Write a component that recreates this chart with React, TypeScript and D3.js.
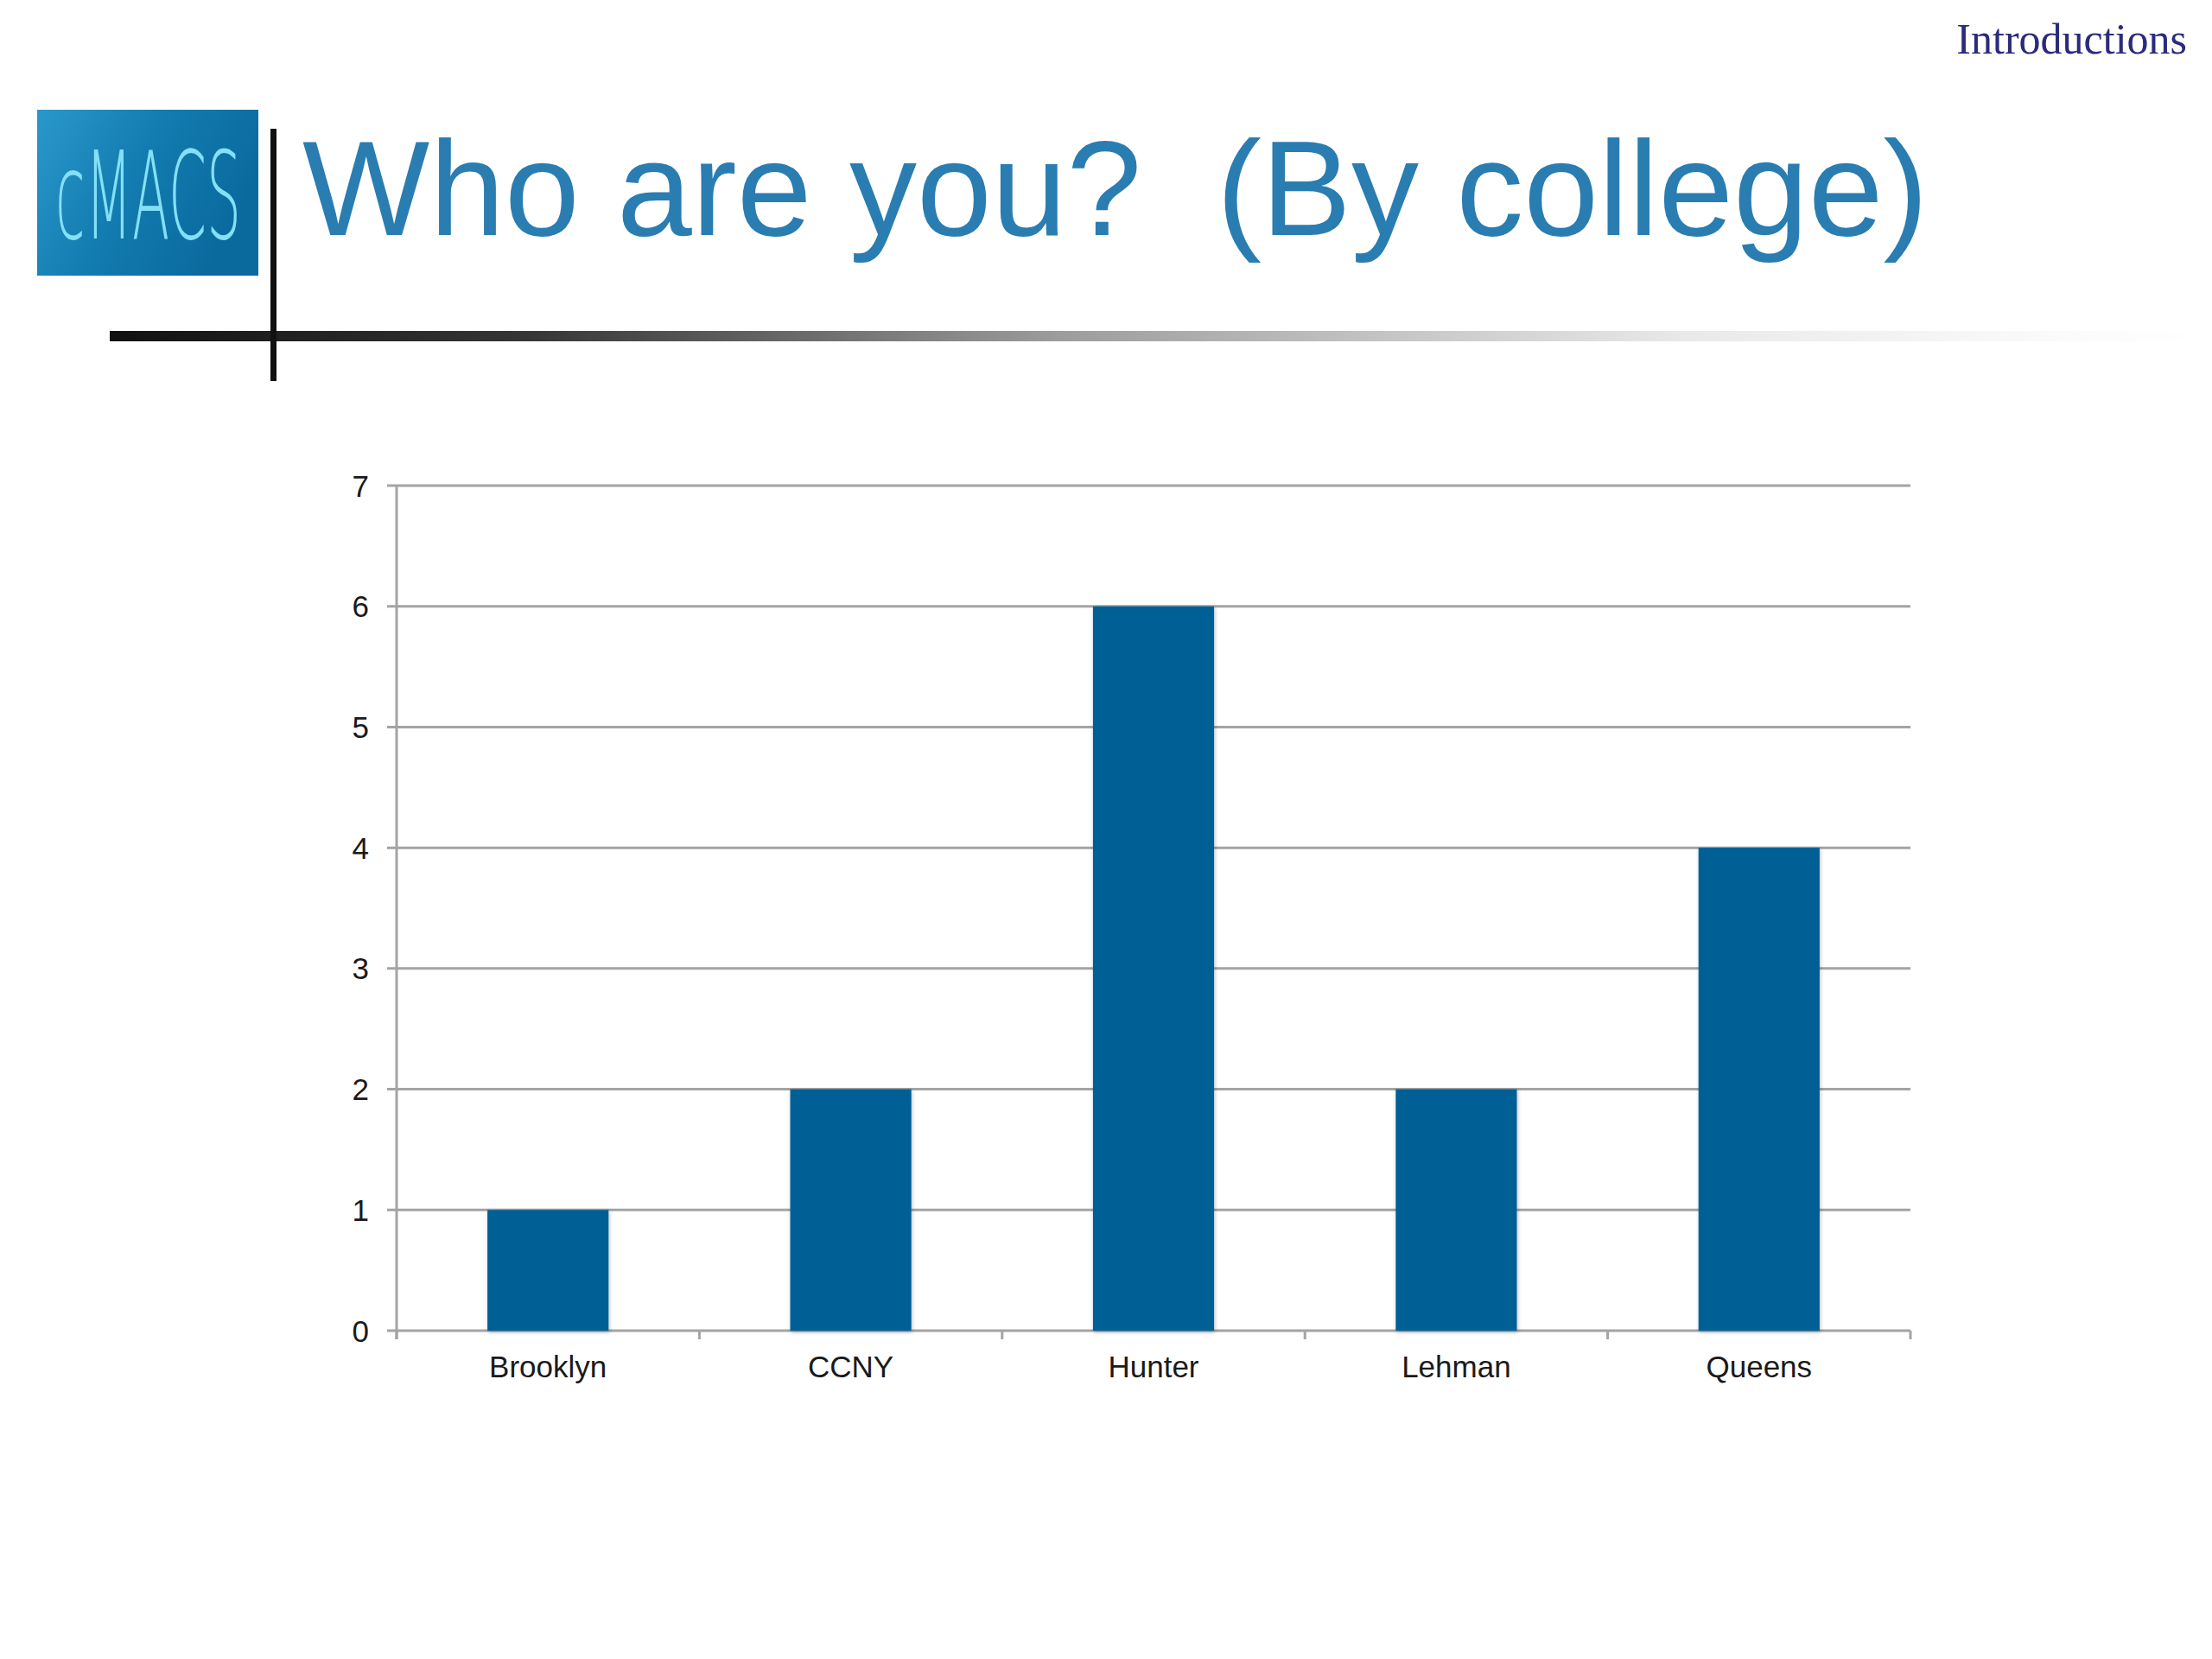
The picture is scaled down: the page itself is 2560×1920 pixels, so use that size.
import React from "react";
import * as d3 from "d3";

const categories: string[] = ["Brooklyn", "CCNY", "Hunter", "Lehman", "Queens"];
const counts: number[] = [1, 2, 6, 2, 4];
const yTicks: number[] = [0, 1, 2, 3, 4, 5, 6, 7];
const titleText = "Who are you?  (By college)";
const headerText = "Introductions";
const logoText = "cMACS";

export default function App() {
  const W = 2560;
  const H = 1920;
  const x = d3
    .scaleBand<string>()
    .domain(categories)
    .range([459, 2211])
    .paddingInner(0.6)
    .paddingOuter(0.3);
  const y = d3.scaleLinear().domain([0, 7]).range([1540, 562]);
  const step = x.step();
  const boundaries = d3.range(categories.length + 1).map((i) => 459 + i * step);
  const font = "'Liberation Sans', Arial, Helvetica, sans-serif";

  return (
    <svg
      width={W}
      height={H}
      viewBox={`0 0 ${W} ${H}`}
      style={{ position: "absolute", left: 0, top: 0, background: "#fff" }}
    >
      <defs>
        <linearGradient id="logoGrad" x1="0" y1="0" x2="1" y2="0.4">
          <stop offset="0" stopColor="#2b98cc" />
          <stop offset="0.5" stopColor="#137cb0" />
          <stop offset="1" stopColor="#0a6a9e" />
        </linearGradient>
        <linearGradient id="ruleGrad" x1="127" y1="0" x2="2560" y2="0" gradientUnits="userSpaceOnUse">
          <stop offset="0" stopColor="#111" />
          <stop offset="0.2" stopColor="#363636" />
          <stop offset="0.45" stopColor="#9c9c9c" />
          <stop offset="0.75" stopColor="#e9e9e9" />
          <stop offset="0.93" stopColor="#fbfbfb" />
          <stop offset="1" stopColor="#fff" />
        </linearGradient>
        <filter id="barShadow" x="-10%" y="-5%" width="120%" height="110%">
          <feDropShadow dx="1" dy="2" stdDeviation="2" floodColor="#000" floodOpacity="0.25" />
        </filter>
      </defs>

      {/* header */}
      <text
        x={2531}
        y={62}
        textAnchor="end"
        fontFamily="'Liberation Serif', 'Times New Roman', serif"
        fontSize={50}
        fill="#2b2b7c"
      >
        {headerText}
      </text>

      {/* logo */}
      <rect x={43} y={127} width={256} height={192} fill="url(#logoGrad)" />
      <g transform="translate(64,276) scale(0.45,1)">
        <text
          x={0}
          y={0}
          fontFamily="'DejaVu Sans', sans-serif"
          fontWeight={200}
          fontSize={140}
          fill="#84e0f7"
        >
          {logoText}
        </text>
      </g>

      {/* title rules */}
      <rect x={127} y={383} width={2433} height={12} fill="url(#ruleGrad)" />
      <rect x={313} y={149} width={7} height={292} fill="#111" />

      {/* title */}
      <text
        x={350}
        y={272}
        fontFamily={font}
        fontSize={156}
        fill="#2a7db1"
        style={{ whiteSpace: "pre" }}
      >
        {titleText}
      </text>

      {/* gridlines */}
      {yTicks.map((t) => (
        <line
          key={"g" + t}
          x1={448}
          x2={2211}
          y1={y(t)}
          y2={y(t)}
          stroke="#a4a4a4"
          strokeWidth={3}
        />
      ))}
      {/* y axis */}
      <line x1={459} x2={459} y1={y(7)} y2={y(0) + 10} stroke="#a4a4a4" strokeWidth={3} />
      {/* x ticks */}
      {boundaries.map((bx, i) => (
        <line key={"xt" + i} x1={bx} x2={bx} y1={y(0)} y2={y(0) + 10} stroke="#a4a4a4" strokeWidth={3} />
      ))}

      {/* bars */}
      {categories.map((c, i) => (
        <rect
          key={c}
          x={x(c)}
          y={y(counts[i])}
          width={x.bandwidth()}
          height={y(0) - y(counts[i])}
          fill="#035f95"
          filter="url(#barShadow)"
        />
      ))}

      {/* y tick labels */}
      {yTicks.map((t) => (
        <text
          key={"yl" + t}
          x={427}
          y={y(t)}
          textAnchor="end"
          dominantBaseline="central"
          fontFamily={font}
          fontSize={35}
          fill="#1a1a1a"
        >
          {t}
        </text>
      ))}

      {/* x labels */}
      {categories.map((c) => (
        <text
          key={"xl" + c}
          x={(x(c) as number) + x.bandwidth() / 2}
          y={1594}
          textAnchor="middle"
          fontFamily={font}
          fontSize={35}
          fill="#1a1a1a"
        >
          {c}
        </text>
      ))}
    </svg>
  );
}
